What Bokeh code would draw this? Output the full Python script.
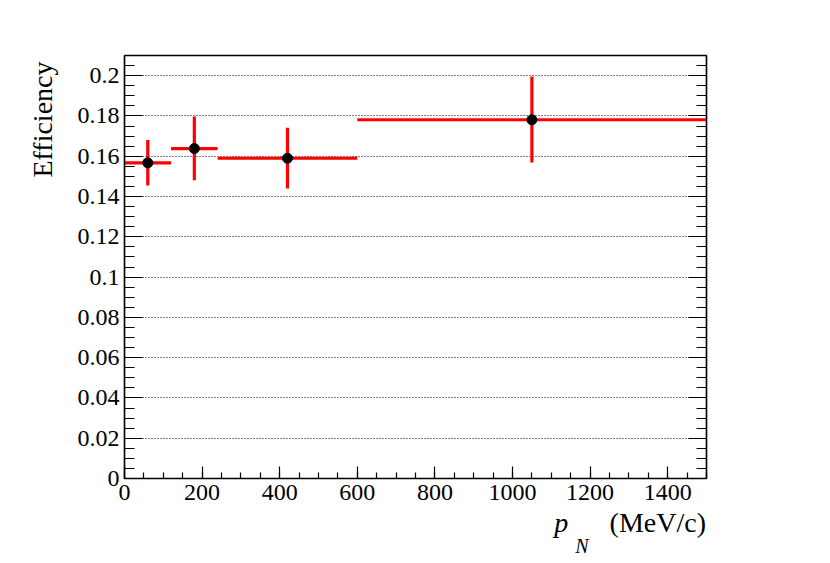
import numpy as np
from bokeh.plotting import figure
from bokeh.layouts import column
from bokeh.models import (ColumnDataSource, FixedTicker, LinearAxis, Title, Div,
                          CustomJSTickFormatter, Range1d, Grid)
from bokeh.embed import file_html
from bokeh.resources import INLINE

# ---- data ----
bin_lo = [0, 120, 240, 600]
bin_hi = [120, 240, 600, 1500]
p_center = [60, 180, 420, 1050]
efficiency = [0.1567, 0.1638, 0.1590, 0.1781]
err_low = [0.1455, 0.1481, 0.1440, 0.1569]
err_high = [0.1680, 0.1797, 0.1741, 0.1996]

x_major = [0, 200, 400, 600, 800, 1000, 1200, 1400]
x_minor = list(range(0, 1501, 50))
y_major = [0, 0.02, 0.04, 0.06, 0.08, 0.10, 0.12, 0.14, 0.16, 0.18, 0.20]
y_minor = [round(0.005 * i, 3) for i in range(0, 43)]

y_title = "Efficiency"
x_title_var = "p"
x_title_sub = "N"
x_title_unit = "(MeV/c)"

FONT = "Liberation Serif"

src = ColumnDataSource(dict(lo=bin_lo, hi=bin_hi, x=p_center, y=efficiency,
                            ylo=err_low, yhi=err_high))

p = figure(width=814, height=517, output_backend="svg", toolbar_location=None,
           x_range=Range1d(0, 1500), y_range=Range1d(0, 0.21),
           x_axis_type=None, y_axis_type=None,
           min_border_left=124, min_border_right=108,
           min_border_top=55, min_border_bottom=39, margin=0)
p.outline_line_color = "black"
p.outline_line_width = 1.5

fmt = CustomJSTickFormatter(code="return tick.toFixed(2).replace(/0+$/,'').replace(/\\.$/,'');")

def style(ax, major_in, minor_in, labels=True):
    ax.major_tick_in = major_in
    ax.major_tick_out = 0
    ax.minor_tick_in = minor_in
    ax.minor_tick_out = 0
    ax.axis_line_color = "black"
    ax.axis_line_width = 1.2
    ax.major_tick_line_width = 1.2
    ax.minor_tick_line_width = 1.2
    ax.major_label_text_font = FONT
    ax.major_label_text_font_size = "24px"
    ax.major_label_text_color = "black" if labels else None

xb = LinearAxis(ticker=FixedTicker(ticks=x_major, minor_ticks=x_minor))
style(xb, 12, 6)
xb.major_label_standoff = 6
p.add_layout(xb, "below")

yl = LinearAxis(ticker=FixedTicker(ticks=y_major, minor_ticks=y_minor), formatter=fmt)
style(yl, 18, 10)
yl.major_label_standoff = 5
p.add_layout(yl, "left")

yr = LinearAxis(ticker=FixedTicker(ticks=y_major, minor_ticks=y_minor), formatter=fmt)
style(yr, 18, 10, labels=False)
p.add_layout(yr, "right")

g = Grid(dimension=1, ticker=yl.ticker, grid_line_color="black",
         grid_line_dash="1 2", grid_line_width=1)
p.add_layout(g)

p.segment(x0="lo", x1="hi", y0="y", y1="y", source=src, line_color="#ff0000", line_width=3.2)
p.segment(x0="x", x1="x", y0="ylo", y1="yhi", source=src, line_color="#ff0000", line_width=3.2)
p.scatter(x="x", y="y", source=src, size=10, fill_color="black", line_color="black")

p.add_layout(Title(text=y_title, align="right", offset=6, standoff=33,
                   text_font=FONT, text_font_size="28px", text_font_style="normal",
                   text_color="black"), "left")

xlabel_html = (
    "<div style=\"position:relative;top:-8px;display:block;width:706px;"
    "text-align:right;white-space:nowrap;"
    "font-family:'Liberation Serif';font-size:28px;line-height:28px;color:black;\">"
    f"<i>{x_title_var}</i>"
    f"<i style=\"font-size:20px;position:relative;top:21px;margin-left:7px;\">{x_title_sub}</i>"
    f"<span style=\"margin-left:21px;\">{x_title_unit}</span>"
    "</div>"
)
xlabel = Div(text=xlabel_html, width=706, height=46, margin=0,
             styles={"width": "706px", "text-align": "right"})

layout = column(p, xlabel, spacing=0)
open("out.html", "w").write(file_html(layout, INLINE))
